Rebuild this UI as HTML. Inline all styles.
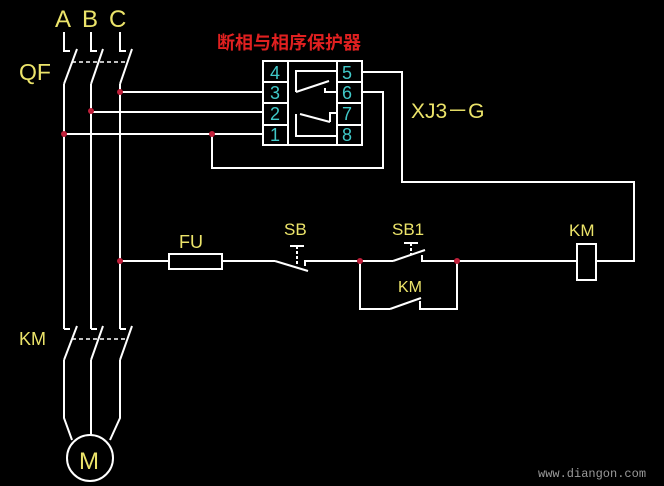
<!DOCTYPE html>
<html><head><meta charset="utf-8"><style>
html,body{margin:0;padding:0;background:#000;width:664px;height:486px;overflow:hidden}
svg{display:block}
</style></head><body>
<svg width="664" height="486" viewBox="0 0 664 486" xmlns="http://www.w3.org/2000/svg">
<rect width="664" height="486" fill="#000"/>
<g font-family="Liberation Sans, sans-serif" fill="#ece46a">
<text x="55" y="27" font-size="24">A</text>
<text x="82" y="27" font-size="24">B</text>
<text x="109" y="27" font-size="24">C</text>
<text x="19" y="80" font-size="23">QF</text>
<text x="19" y="345" font-size="18">KM</text>
<text x="79" y="469" font-size="24">M</text>
<text x="411" y="118" font-size="21">XJ3－G</text>
<text x="179" y="248" font-size="18">FU</text>
<text x="284" y="235" font-size="17">SB</text>
<text x="392" y="235" font-size="17">SB1</text>
<text x="398" y="292" font-size="16">KM</text>
<text x="569" y="236" font-size="17">KM</text>
</g>
<text x="217" y="49" font-size="18" font-weight="bold" fill="#e02020" font-family="Liberation Sans, Noto Sans CJK SC, sans-serif">断相与相序保护器</text>
<text x="538" y="477" font-size="12" fill="#9a9a9a" font-family="Liberation Mono, monospace">www.diangon.com</text>
<g stroke="#fff" stroke-width="2" fill="none">
<polyline points="64,32 64,51 70,51"/><polyline points="91,32 91,51 97,51"/><polyline points="120,32 120,51 126,51"/>
<line x1="64" y1="84" x2="77" y2="49"/><line x1="91" y1="84" x2="103" y2="49"/><line x1="120" y1="84" x2="132" y2="49"/>
<line x1="72" y1="62" x2="128" y2="62" stroke-dasharray="4,3" stroke-width="1.5"/>
<line x1="64" y1="84" x2="64" y2="329"/><line x1="91" y1="84" x2="91" y2="329"/><line x1="120" y1="84" x2="120" y2="329"/>
<line x1="64" y1="329" x2="70" y2="329"/><line x1="91" y1="329" x2="97" y2="329"/><line x1="120" y1="329" x2="126" y2="329"/>
<line x1="64" y1="360" x2="77" y2="326"/><line x1="91" y1="360" x2="103" y2="326"/><line x1="120" y1="360" x2="132" y2="326"/>
<line x1="72" y1="339" x2="128" y2="339" stroke-dasharray="4,3" stroke-width="1.5"/>
<polyline points="64,360 64,418 72,440"/><line x1="91" y1="360" x2="91" y2="435"/><polyline points="120,360 120,418 110,440"/>
<circle cx="90" cy="458" r="23"/>
<line x1="120" y1="92" x2="263" y2="92"/><line x1="91" y1="112" x2="263" y2="112"/><line x1="64" y1="134" x2="263" y2="134"/>
<polyline points="212,134 212,168 383,168 383,92 362,92"/>
<polyline points="362,72 402,72 402,182 634,182 634,261 596,261"/>
<rect x="263" y="61" width="99" height="84"/>
<line x1="288" y1="61" x2="288" y2="145"/><line x1="337" y1="61" x2="337" y2="145"/>
<line x1="263" y1="82" x2="288" y2="82"/><line x1="263" y1="103" x2="288" y2="103"/><line x1="263" y1="125" x2="288" y2="125"/>
<line x1="337" y1="82" x2="362" y2="82"/><line x1="337" y1="103" x2="362" y2="103"/><line x1="337" y1="125" x2="362" y2="125"/>
<polyline points="337,71 296,71 296,92"/><line x1="296" y1="92" x2="329" y2="81"/><polyline points="325,88 325,92 337,92"/>
<polyline points="337,136 296,136 296,114"/><line x1="300" y1="114" x2="330" y2="122"/><polyline points="330,122 330,113 337,113"/>
<line x1="120" y1="261" x2="169" y2="261"/>
<rect x="169" y="254" width="53" height="15"/>
<line x1="222" y1="261" x2="275" y2="261"/>
<line x1="275" y1="261" x2="308" y2="271"/>
<polyline points="305,266 305,261 360,261"/>
<polyline points="290,246 304,246"/><line x1="297" y1="246" x2="297" y2="266" stroke-dasharray="3,2"/>
<line x1="360" y1="261" x2="393" y2="261"/>
<line x1="393" y1="261" x2="425" y2="250"/>
<polyline points="422,255 422,261 457,261"/>
<polyline points="404,243 418,243"/><line x1="411" y1="243" x2="411" y2="255" stroke-dasharray="3,2"/>
<polyline points="360,261 360,309 390,309"/><line x1="390" y1="309" x2="421" y2="298"/><polyline points="420,301 420,309 457,309 457,261"/>
<line x1="457" y1="261" x2="577" y2="261"/>
<rect x="577" y="244" width="19" height="36"/>
</g>
<g fill="#c0203a">
<circle cx="120" cy="92" r="3"/><circle cx="91" cy="111" r="3"/><circle cx="64" cy="134" r="3"/><circle cx="212" cy="134" r="3"/>
<circle cx="120" cy="261" r="3"/><circle cx="360" cy="261" r="3"/><circle cx="457" cy="261" r="3"/>
</g>
<g font-family="Liberation Sans, sans-serif" font-size="18" fill="#40c8c8">
<text x="270" y="79">4</text><text x="270" y="99">3</text><text x="270" y="120">2</text><text x="270" y="141">1</text>
<text x="342" y="79">5</text><text x="342" y="99">6</text><text x="342" y="120">7</text><text x="342" y="141">8</text>
</g>
</svg>
</body></html>
